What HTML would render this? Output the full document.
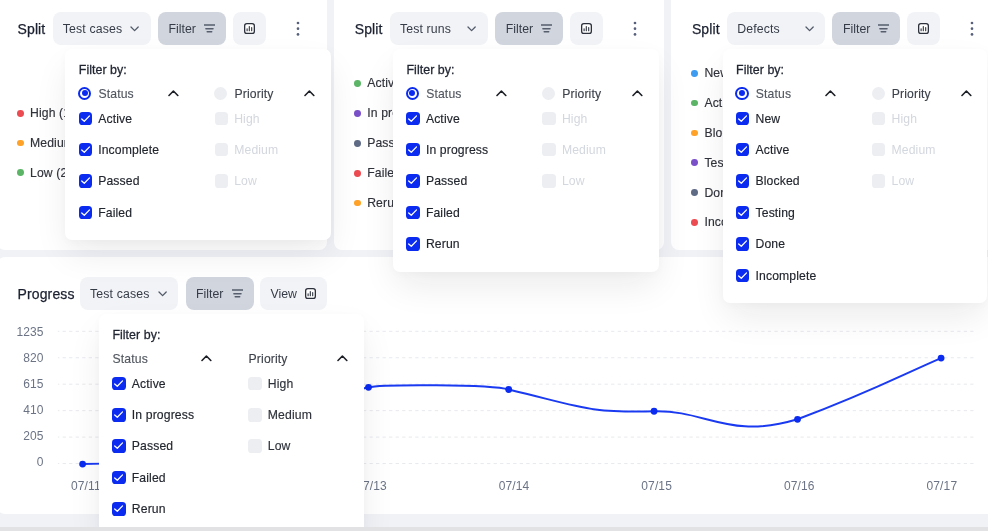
<!DOCTYPE html>
<html><head><meta charset="utf-8"><title>Split / Progress</title>
<style>
*{box-sizing:border-box;margin:0;padding:0}
html,body{width:988px;height:531px;overflow:hidden;background:#f1f2f6;font-family:"Liberation Sans", sans-serif;}
body{position:relative}
.a{position:absolute}
.t{position:absolute;white-space:nowrap;line-height:1;letter-spacing:0.13px}
.dd{background:#fff;border-radius:7px;box-shadow:0 16px 36px -4px rgba(20,25,40,0.09),0 2px 8px rgba(20,25,40,0.025)}
</style></head><body>
<div class="a" style="left:-3.10px;top:-20.00px;width:330.40px;height:270.00px;background:#fff;border-radius:8px;"></div>
<div class="a" style="left:334.10px;top:-20.00px;width:330.40px;height:270.00px;background:#fff;border-radius:8px;"></div>
<div class="a" style="left:671.30px;top:-20.00px;width:330.40px;height:270.00px;background:#fff;border-radius:8px;"></div>
<div class="a" style="left:-3.10px;top:257.20px;width:1000.00px;height:256.40px;background:#fff;border-radius:8px;"></div>
<div class="a" style="left:0.00px;top:527.00px;width:988.00px;height:4.00px;background:#e4e5e8;"></div>
<div class="t" style="left:17.50px;top:22.01px;font-size:14px;color:#1b2030;font-weight:400;-webkit-text-stroke:0.25px #1b2030;">Split</div>
<div class="a" style="left:53.00px;top:12.30px;width:98.00px;height:32.70px;background:#f1f3f7;border-radius:8px;"></div>
<div class="t" style="left:62.80px;top:22.86px;font-size:12.3px;color:#363c47;font-weight:400;">Test cases</div>
<svg class="a" style="left:130.10px;top:25.50px" width="10" height="7" viewBox="0 0 10 7"><polyline points="1,1 4.6,4.6 8.2,1" fill="none" stroke="#535a69" stroke-width="1.3" stroke-linecap="round" stroke-linejoin="round"/></svg>
<div class="a" style="left:158.00px;top:12.30px;width:68.00px;height:32.70px;background:#d0d5de;border-radius:8px;"></div>
<div class="t" style="left:168.60px;top:22.86px;font-size:12.3px;color:#363c47;font-weight:400;letter-spacing:0;">Filter</div>
<svg class="a" style="left:204.00px;top:24.25px" width="11" height="9" viewBox="0 0 11 9"><path d="M0.2 1H10.8M1.9 4.65H9M3.2 7.75H7.7" stroke="#565d6c" stroke-width="1.5" stroke-linecap="round"/></svg>
<div class="a" style="left:233.00px;top:12.30px;width:33.00px;height:32.70px;background:#f1f3f7;border-radius:8px;"></div>
<svg class="a" style="left:244.00px;top:23.05px" width="11" height="11" viewBox="0 0 11 11"><rect x="0.65" y="0.65" width="9.7" height="9.7" rx="2.2" fill="#fff" stroke="#2b303b" stroke-width="1.3"/><path d="M3.1 5.8V7.8M5.3 3.6V7.8M7.7 4.6V7.8" stroke="#2b303b" stroke-width="1.1" stroke-linecap="round"/></svg>
<svg class="a" style="left:294.70px;top:20px" width="6" height="18" viewBox="0 0 6 18"><circle cx="3" cy="3.00" r="1.35" fill="#56607a"/><circle cx="3" cy="8.70" r="1.35" fill="#56607a"/><circle cx="3" cy="14.40" r="1.35" fill="#56607a"/></svg>
<div class="t" style="left:354.70px;top:22.01px;font-size:14px;color:#1b2030;font-weight:400;-webkit-text-stroke:0.25px #1b2030;">Split</div>
<div class="a" style="left:390.20px;top:12.30px;width:98.00px;height:32.70px;background:#f1f3f7;border-radius:8px;"></div>
<div class="t" style="left:400.00px;top:22.86px;font-size:12.3px;color:#363c47;font-weight:400;">Test runs</div>
<svg class="a" style="left:467.30px;top:25.50px" width="10" height="7" viewBox="0 0 10 7"><polyline points="1,1 4.6,4.6 8.2,1" fill="none" stroke="#535a69" stroke-width="1.3" stroke-linecap="round" stroke-linejoin="round"/></svg>
<div class="a" style="left:495.20px;top:12.30px;width:68.00px;height:32.70px;background:#d0d5de;border-radius:8px;"></div>
<div class="t" style="left:505.80px;top:22.86px;font-size:12.3px;color:#363c47;font-weight:400;letter-spacing:0;">Filter</div>
<svg class="a" style="left:541.20px;top:24.25px" width="11" height="9" viewBox="0 0 11 9"><path d="M0.2 1H10.8M1.9 4.65H9M3.2 7.75H7.7" stroke="#565d6c" stroke-width="1.5" stroke-linecap="round"/></svg>
<div class="a" style="left:570.20px;top:12.30px;width:33.00px;height:32.70px;background:#f1f3f7;border-radius:8px;"></div>
<svg class="a" style="left:581.20px;top:23.05px" width="11" height="11" viewBox="0 0 11 11"><rect x="0.65" y="0.65" width="9.7" height="9.7" rx="2.2" fill="#fff" stroke="#2b303b" stroke-width="1.3"/><path d="M3.1 5.8V7.8M5.3 3.6V7.8M7.7 4.6V7.8" stroke="#2b303b" stroke-width="1.1" stroke-linecap="round"/></svg>
<svg class="a" style="left:631.90px;top:20px" width="6" height="18" viewBox="0 0 6 18"><circle cx="3" cy="3.00" r="1.35" fill="#56607a"/><circle cx="3" cy="8.70" r="1.35" fill="#56607a"/><circle cx="3" cy="14.40" r="1.35" fill="#56607a"/></svg>
<div class="t" style="left:691.90px;top:22.01px;font-size:14px;color:#1b2030;font-weight:400;-webkit-text-stroke:0.25px #1b2030;">Split</div>
<div class="a" style="left:727.40px;top:12.30px;width:98.00px;height:32.70px;background:#f1f3f7;border-radius:8px;"></div>
<div class="t" style="left:737.20px;top:22.86px;font-size:12.3px;color:#363c47;font-weight:400;">Defects</div>
<svg class="a" style="left:804.50px;top:25.50px" width="10" height="7" viewBox="0 0 10 7"><polyline points="1,1 4.6,4.6 8.2,1" fill="none" stroke="#535a69" stroke-width="1.3" stroke-linecap="round" stroke-linejoin="round"/></svg>
<div class="a" style="left:832.40px;top:12.30px;width:68.00px;height:32.70px;background:#d0d5de;border-radius:8px;"></div>
<div class="t" style="left:843.00px;top:22.86px;font-size:12.3px;color:#363c47;font-weight:400;letter-spacing:0;">Filter</div>
<svg class="a" style="left:878.40px;top:24.25px" width="11" height="9" viewBox="0 0 11 9"><path d="M0.2 1H10.8M1.9 4.65H9M3.2 7.75H7.7" stroke="#565d6c" stroke-width="1.5" stroke-linecap="round"/></svg>
<div class="a" style="left:907.40px;top:12.30px;width:33.00px;height:32.70px;background:#f1f3f7;border-radius:8px;"></div>
<svg class="a" style="left:918.40px;top:23.05px" width="11" height="11" viewBox="0 0 11 11"><rect x="0.65" y="0.65" width="9.7" height="9.7" rx="2.2" fill="#fff" stroke="#2b303b" stroke-width="1.3"/><path d="M3.1 5.8V7.8M5.3 3.6V7.8M7.7 4.6V7.8" stroke="#2b303b" stroke-width="1.1" stroke-linecap="round"/></svg>
<svg class="a" style="left:969.10px;top:20px" width="6" height="18" viewBox="0 0 6 18"><circle cx="3" cy="3.00" r="1.35" fill="#56607a"/><circle cx="3" cy="8.70" r="1.35" fill="#56607a"/><circle cx="3" cy="14.40" r="1.35" fill="#56607a"/></svg>
<div class="t" style="left:17.50px;top:287.01px;font-size:14px;color:#1b2030;font-weight:400;-webkit-text-stroke:0.25px #1b2030;">Progress</div>
<div class="a" style="left:80.30px;top:277.30px;width:98.10px;height:32.70px;background:#f1f3f7;border-radius:8px;"></div>
<div class="t" style="left:90.10px;top:287.86px;font-size:12.3px;color:#363c47;font-weight:400;">Test cases</div>
<svg class="a" style="left:157.50px;top:290.50px" width="10" height="7" viewBox="0 0 10 7"><polyline points="1,1 4.6,4.6 8.2,1" fill="none" stroke="#535a69" stroke-width="1.3" stroke-linecap="round" stroke-linejoin="round"/></svg>
<div class="a" style="left:185.50px;top:277.30px;width:68.00px;height:32.70px;background:#d0d5de;border-radius:8px;"></div>
<div class="t" style="left:196.10px;top:287.86px;font-size:12.3px;color:#363c47;font-weight:400;letter-spacing:0;">Filter</div>
<svg class="a" style="left:231.50px;top:289.25px" width="11" height="9" viewBox="0 0 11 9"><path d="M0.2 1H10.8M1.9 4.65H9M3.2 7.75H7.7" stroke="#565d6c" stroke-width="1.5" stroke-linecap="round"/></svg>
<div class="a" style="left:260.20px;top:277.30px;width:66.70px;height:32.70px;background:#f1f3f7;border-radius:8px;"></div>
<div class="t" style="left:270.50px;top:287.86px;font-size:12.3px;color:#363c47;font-weight:400;letter-spacing:0;">View</div>
<svg class="a" style="left:305.10px;top:288.10px" width="11" height="11" viewBox="0 0 11 11"><rect x="0.65" y="0.65" width="9.7" height="9.7" rx="2.2" fill="#fff" stroke="#2b303b" stroke-width="1.3"/><path d="M3.1 5.8V7.8M5.3 3.6V7.8M7.7 4.6V7.8" stroke="#2b303b" stroke-width="1.1" stroke-linecap="round"/></svg>
<div class="a" style="left:16.90px;top:109.90px;width:6.8px;height:6.8px;border-radius:50%;background:#ec4b51"></div>
<div class="t" style="left:30.00px;top:106.91px;font-size:12.2px;color:#30333b;font-weight:400;-webkit-text-stroke:0.15px #30333b;">High (1)</div>
<div class="a" style="left:16.90px;top:139.60px;width:6.8px;height:6.8px;border-radius:50%;background:#ffa227"></div>
<div class="t" style="left:30.00px;top:136.91px;font-size:12.2px;color:#30333b;font-weight:400;-webkit-text-stroke:0.15px #30333b;">Medium (3)</div>
<div class="a" style="left:16.90px;top:169.20px;width:6.8px;height:6.8px;border-radius:50%;background:#5cb567"></div>
<div class="t" style="left:30.00px;top:166.91px;font-size:12.2px;color:#30333b;font-weight:400;-webkit-text-stroke:0.15px #30333b;">Low (2)</div>
<div class="a" style="left:354.10px;top:79.90px;width:6.8px;height:6.8px;border-radius:50%;background:#5cb567"></div>
<div class="t" style="left:367.20px;top:76.91px;font-size:12.2px;color:#30333b;font-weight:400;-webkit-text-stroke:0.15px #30333b;">Active (3)</div>
<div class="a" style="left:354.10px;top:109.80px;width:6.8px;height:6.8px;border-radius:50%;background:#7a50c8"></div>
<div class="t" style="left:367.20px;top:106.91px;font-size:12.2px;color:#30333b;font-weight:400;-webkit-text-stroke:0.15px #30333b;">In progress (1)</div>
<div class="a" style="left:354.10px;top:139.80px;width:6.8px;height:6.8px;border-radius:50%;background:#5f6b85"></div>
<div class="t" style="left:367.20px;top:136.91px;font-size:12.2px;color:#30333b;font-weight:400;-webkit-text-stroke:0.15px #30333b;">Passed (4)</div>
<div class="a" style="left:354.10px;top:169.80px;width:6.8px;height:6.8px;border-radius:50%;background:#ec4b51"></div>
<div class="t" style="left:367.20px;top:166.91px;font-size:12.2px;color:#30333b;font-weight:400;-webkit-text-stroke:0.15px #30333b;">Failed (1)</div>
<div class="a" style="left:354.10px;top:199.70px;width:6.8px;height:6.8px;border-radius:50%;background:#ffa227"></div>
<div class="t" style="left:367.20px;top:196.91px;font-size:12.2px;color:#30333b;font-weight:400;-webkit-text-stroke:0.15px #30333b;">Rerun (0)</div>
<div class="a" style="left:691.30px;top:69.80px;width:6.8px;height:6.8px;border-radius:50%;background:#3d9bf0"></div>
<div class="t" style="left:704.40px;top:66.91px;font-size:12.2px;color:#30333b;font-weight:400;-webkit-text-stroke:0.15px #30333b;">New (2)</div>
<div class="a" style="left:691.30px;top:99.60px;width:6.8px;height:6.8px;border-radius:50%;background:#5cb567"></div>
<div class="t" style="left:704.40px;top:96.91px;font-size:12.2px;color:#30333b;font-weight:400;-webkit-text-stroke:0.15px #30333b;">Active (1)</div>
<div class="a" style="left:691.30px;top:129.50px;width:6.8px;height:6.8px;border-radius:50%;background:#ffa227"></div>
<div class="t" style="left:704.40px;top:126.91px;font-size:12.2px;color:#30333b;font-weight:400;-webkit-text-stroke:0.15px #30333b;">Blocked (1)</div>
<div class="a" style="left:691.30px;top:159.30px;width:6.8px;height:6.8px;border-radius:50%;background:#7a50c8"></div>
<div class="t" style="left:704.40px;top:156.91px;font-size:12.2px;color:#30333b;font-weight:400;-webkit-text-stroke:0.15px #30333b;">Testing (0)</div>
<div class="a" style="left:691.30px;top:189.10px;width:6.8px;height:6.8px;border-radius:50%;background:#5f6b85"></div>
<div class="t" style="left:704.40px;top:186.91px;font-size:12.2px;color:#30333b;font-weight:400;-webkit-text-stroke:0.15px #30333b;">Done (3)</div>
<div class="a" style="left:691.30px;top:218.80px;width:6.8px;height:6.8px;border-radius:50%;background:#ec4b51"></div>
<div class="t" style="left:704.40px;top:215.91px;font-size:12.2px;color:#30333b;font-weight:400;-webkit-text-stroke:0.15px #30333b;">Incomplete (1)</div>
<svg class="a" style="left:0;top:0" width="988" height="531" viewBox="0 0 988 531"><line x1="57.9" y1="331.3" x2="973.5" y2="331.3" stroke="#e7e9ed" stroke-width="1" stroke-dasharray="3.3 3.23" stroke-dashoffset="1.83"/><line x1="57.9" y1="357.75" x2="973.5" y2="357.75" stroke="#e7e9ed" stroke-width="1" stroke-dasharray="3.3 3.23" stroke-dashoffset="1.83"/><line x1="57.9" y1="384.2" x2="973.5" y2="384.2" stroke="#e7e9ed" stroke-width="1" stroke-dasharray="3.3 3.23" stroke-dashoffset="1.83"/><line x1="57.9" y1="410.65" x2="973.5" y2="410.65" stroke="#e7e9ed" stroke-width="1" stroke-dasharray="3.3 3.23" stroke-dashoffset="1.83"/><line x1="57.9" y1="437.1" x2="973.5" y2="437.1" stroke="#e7e9ed" stroke-width="1" stroke-dasharray="3.3 3.23" stroke-dashoffset="1.83"/><line x1="57.9" y1="463.55" x2="973.5" y2="463.55" stroke="#e7e9ed" stroke-width="1" stroke-dasharray="3.3 3.23" stroke-dashoffset="1.83"/></svg>
<div class="t" style="right:944.40px;top:326.01px;font-size:12px;color:#6b7385;font-weight:400;">1235</div>
<div class="t" style="right:944.40px;top:352.01px;font-size:12px;color:#6b7385;font-weight:400;">820</div>
<div class="t" style="right:944.40px;top:378.01px;font-size:12px;color:#6b7385;font-weight:400;">615</div>
<div class="t" style="right:944.40px;top:404.01px;font-size:12px;color:#6b7385;font-weight:400;">410</div>
<div class="t" style="right:944.40px;top:430.01px;font-size:12px;color:#6b7385;font-weight:400;">205</div>
<div class="t" style="right:944.40px;top:456.01px;font-size:12px;color:#6b7385;font-weight:400;">0</div>
<div class="t" style="left:70.90px;top:480.01px;font-size:12px;color:#6b7385;font-weight:400;">07/11</div>
<div class="t" style="left:213.50px;top:480.01px;font-size:12px;color:#6b7385;font-weight:400;">07/12</div>
<div class="t" style="left:356.10px;top:480.01px;font-size:12px;color:#6b7385;font-weight:400;">07/13</div>
<div class="t" style="left:498.70px;top:480.01px;font-size:12px;color:#6b7385;font-weight:400;">07/14</div>
<div class="t" style="left:641.30px;top:480.01px;font-size:12px;color:#6b7385;font-weight:400;">07/15</div>
<div class="t" style="left:783.90px;top:480.01px;font-size:12px;color:#6b7385;font-weight:400;">07/16</div>
<div class="t" style="left:926.50px;top:480.01px;font-size:12px;color:#6b7385;font-weight:400;">07/17</div>
<svg class="a" style="left:0;top:0" width="988" height="531" viewBox="0 0 988 531"><path d="M82.6 464.1 C160 464.1,190 445,225.7 430 C265 420,345 393,368.5 387.3 C379.9 384.25,490.9 384.00,508.7 389.5 C585.2 407.82,586.9 412.60,654.05 411.26 C706.4 409.88,728.6 439.88,797.5 419.3 C871.2 391.80,903.0 374.36,941.1 358.1" fill="none" stroke="#1a3af2" stroke-width="2"/><circle cx="82.6" cy="464.1" r="3.4" fill="#0b2cf0"/><circle cx="225.7" cy="430.0" r="3.4" fill="#0b2cf0"/><circle cx="368.5" cy="387.3" r="3.4" fill="#0b2cf0"/><circle cx="508.7" cy="389.5" r="3.4" fill="#0b2cf0"/><circle cx="654.05" cy="411.26" r="3.4" fill="#0b2cf0"/><circle cx="797.5" cy="419.3" r="3.4" fill="#0b2cf0"/><circle cx="941.1" cy="358.1" r="3.4" fill="#0b2cf0"/></svg>
<div class="a dd" style="left:65.30px;top:49.20px;width:265.50px;height:191.10px"></div>
<div class="t" style="left:78.80px;top:63.81px;font-size:12.4px;color:#1f2430;font-weight:400;-webkit-text-stroke:0.28px #1f2430;letter-spacing:0.05px;">Filter by:</div>
<div class="a" style="left:78.10px;top:86.80px;width:13.2px;height:13.2px;border-radius:50%;border:2.2px solid #0b2cf0;background:#fff"></div>
<div class="a" style="left:81.60px;top:90.30px;width:6.2px;height:6.2px;border-radius:50%;background:#0b2cf0"></div>
<div class="a" style="left:214.20px;top:86.90px;width:13.00px;height:13.00px;border-radius:50%;background:#eceef2;"></div>
<div class="t" style="left:98.50px;top:87.91px;font-size:12.2px;color:#51565f;font-weight:400;-webkit-text-stroke:0.12px #51565f;">Status</div>
<div class="t" style="left:234.50px;top:87.91px;font-size:12.2px;color:#3c414a;font-weight:400;-webkit-text-stroke:0.12px #3c414a;">Priority</div>
<svg class="a" style="left:167.80px;top:90.30px" width="11" height="7" viewBox="0 0 11 7"><polyline points="1,5.5 5.4,1 9.8,5.5" fill="none" stroke="#1c1f26" stroke-width="1.6" stroke-linecap="round" stroke-linejoin="round"/></svg>
<svg class="a" style="left:303.80px;top:90.30px" width="11" height="7" viewBox="0 0 11 7"><polyline points="1,5.5 5.4,1 9.8,5.5" fill="none" stroke="#1c1f26" stroke-width="1.6" stroke-linecap="round" stroke-linejoin="round"/></svg>
<div class="a" style="left:78.50px;top:111.55px;width:13.5px;height:13.5px;border-radius:3.6px;background:#0b2cf0"><svg width="13.5" height="13.5" viewBox="0 0 13.5 13.5" style="display:block"><polyline points="2.7,7.0 5.3,9.3 10.5,3.9" fill="none" stroke="#fff" stroke-width="1.3" stroke-linecap="round" stroke-linejoin="round"/></svg></div>
<div class="t" style="left:98.20px;top:112.91px;font-size:12.2px;color:#22262e;font-weight:400;-webkit-text-stroke:0.15px #22262e;">Active</div>
<div class="a" style="left:78.50px;top:142.95px;width:13.5px;height:13.5px;border-radius:3.6px;background:#0b2cf0"><svg width="13.5" height="13.5" viewBox="0 0 13.5 13.5" style="display:block"><polyline points="2.7,7.0 5.3,9.3 10.5,3.9" fill="none" stroke="#fff" stroke-width="1.3" stroke-linecap="round" stroke-linejoin="round"/></svg></div>
<div class="t" style="left:98.20px;top:143.91px;font-size:12.2px;color:#22262e;font-weight:400;-webkit-text-stroke:0.15px #22262e;">Incomplete</div>
<div class="a" style="left:78.50px;top:174.35px;width:13.5px;height:13.5px;border-radius:3.6px;background:#0b2cf0"><svg width="13.5" height="13.5" viewBox="0 0 13.5 13.5" style="display:block"><polyline points="2.7,7.0 5.3,9.3 10.5,3.9" fill="none" stroke="#fff" stroke-width="1.3" stroke-linecap="round" stroke-linejoin="round"/></svg></div>
<div class="t" style="left:98.20px;top:174.91px;font-size:12.2px;color:#22262e;font-weight:400;-webkit-text-stroke:0.15px #22262e;">Passed</div>
<div class="a" style="left:78.50px;top:205.75px;width:13.5px;height:13.5px;border-radius:3.6px;background:#0b2cf0"><svg width="13.5" height="13.5" viewBox="0 0 13.5 13.5" style="display:block"><polyline points="2.7,7.0 5.3,9.3 10.5,3.9" fill="none" stroke="#fff" stroke-width="1.3" stroke-linecap="round" stroke-linejoin="round"/></svg></div>
<div class="t" style="left:98.20px;top:206.91px;font-size:12.2px;color:#22262e;font-weight:400;-webkit-text-stroke:0.15px #22262e;">Failed</div>
<div class="a" style="left:214.50px;top:111.55px;width:13.50px;height:13.50px;border-radius:3.6px;background:#eceef2;"></div>
<div class="t" style="left:234.20px;top:112.91px;font-size:12.2px;color:#d3d7de;font-weight:400;">High</div>
<div class="a" style="left:214.50px;top:142.95px;width:13.50px;height:13.50px;border-radius:3.6px;background:#eceef2;"></div>
<div class="t" style="left:234.20px;top:143.91px;font-size:12.2px;color:#d3d7de;font-weight:400;">Medium</div>
<div class="a" style="left:214.50px;top:174.35px;width:13.50px;height:13.50px;border-radius:3.6px;background:#eceef2;"></div>
<div class="t" style="left:234.20px;top:174.91px;font-size:12.2px;color:#d3d7de;font-weight:400;">Low</div>
<div class="a dd" style="left:393.00px;top:49.20px;width:265.50px;height:222.70px"></div>
<div class="t" style="left:406.50px;top:63.81px;font-size:12.4px;color:#1f2430;font-weight:400;-webkit-text-stroke:0.28px #1f2430;letter-spacing:0.05px;">Filter by:</div>
<div class="a" style="left:405.80px;top:86.80px;width:13.2px;height:13.2px;border-radius:50%;border:2.2px solid #0b2cf0;background:#fff"></div>
<div class="a" style="left:409.30px;top:90.30px;width:6.2px;height:6.2px;border-radius:50%;background:#0b2cf0"></div>
<div class="a" style="left:541.90px;top:86.90px;width:13.00px;height:13.00px;border-radius:50%;background:#eceef2;"></div>
<div class="t" style="left:426.20px;top:87.91px;font-size:12.2px;color:#51565f;font-weight:400;-webkit-text-stroke:0.12px #51565f;">Status</div>
<div class="t" style="left:562.20px;top:87.91px;font-size:12.2px;color:#3c414a;font-weight:400;-webkit-text-stroke:0.12px #3c414a;">Priority</div>
<svg class="a" style="left:495.50px;top:90.30px" width="11" height="7" viewBox="0 0 11 7"><polyline points="1,5.5 5.4,1 9.8,5.5" fill="none" stroke="#1c1f26" stroke-width="1.6" stroke-linecap="round" stroke-linejoin="round"/></svg>
<svg class="a" style="left:631.50px;top:90.30px" width="11" height="7" viewBox="0 0 11 7"><polyline points="1,5.5 5.4,1 9.8,5.5" fill="none" stroke="#1c1f26" stroke-width="1.6" stroke-linecap="round" stroke-linejoin="round"/></svg>
<div class="a" style="left:406.20px;top:111.55px;width:13.5px;height:13.5px;border-radius:3.6px;background:#0b2cf0"><svg width="13.5" height="13.5" viewBox="0 0 13.5 13.5" style="display:block"><polyline points="2.7,7.0 5.3,9.3 10.5,3.9" fill="none" stroke="#fff" stroke-width="1.3" stroke-linecap="round" stroke-linejoin="round"/></svg></div>
<div class="t" style="left:425.90px;top:112.91px;font-size:12.2px;color:#22262e;font-weight:400;-webkit-text-stroke:0.15px #22262e;">Active</div>
<div class="a" style="left:406.20px;top:142.95px;width:13.5px;height:13.5px;border-radius:3.6px;background:#0b2cf0"><svg width="13.5" height="13.5" viewBox="0 0 13.5 13.5" style="display:block"><polyline points="2.7,7.0 5.3,9.3 10.5,3.9" fill="none" stroke="#fff" stroke-width="1.3" stroke-linecap="round" stroke-linejoin="round"/></svg></div>
<div class="t" style="left:425.90px;top:143.91px;font-size:12.2px;color:#22262e;font-weight:400;-webkit-text-stroke:0.15px #22262e;">In progress</div>
<div class="a" style="left:406.20px;top:174.35px;width:13.5px;height:13.5px;border-radius:3.6px;background:#0b2cf0"><svg width="13.5" height="13.5" viewBox="0 0 13.5 13.5" style="display:block"><polyline points="2.7,7.0 5.3,9.3 10.5,3.9" fill="none" stroke="#fff" stroke-width="1.3" stroke-linecap="round" stroke-linejoin="round"/></svg></div>
<div class="t" style="left:425.90px;top:174.91px;font-size:12.2px;color:#22262e;font-weight:400;-webkit-text-stroke:0.15px #22262e;">Passed</div>
<div class="a" style="left:406.20px;top:205.75px;width:13.5px;height:13.5px;border-radius:3.6px;background:#0b2cf0"><svg width="13.5" height="13.5" viewBox="0 0 13.5 13.5" style="display:block"><polyline points="2.7,7.0 5.3,9.3 10.5,3.9" fill="none" stroke="#fff" stroke-width="1.3" stroke-linecap="round" stroke-linejoin="round"/></svg></div>
<div class="t" style="left:425.90px;top:206.91px;font-size:12.2px;color:#22262e;font-weight:400;-webkit-text-stroke:0.15px #22262e;">Failed</div>
<div class="a" style="left:406.20px;top:237.15px;width:13.5px;height:13.5px;border-radius:3.6px;background:#0b2cf0"><svg width="13.5" height="13.5" viewBox="0 0 13.5 13.5" style="display:block"><polyline points="2.7,7.0 5.3,9.3 10.5,3.9" fill="none" stroke="#fff" stroke-width="1.3" stroke-linecap="round" stroke-linejoin="round"/></svg></div>
<div class="t" style="left:425.90px;top:237.91px;font-size:12.2px;color:#22262e;font-weight:400;-webkit-text-stroke:0.15px #22262e;">Rerun</div>
<div class="a" style="left:542.20px;top:111.55px;width:13.50px;height:13.50px;border-radius:3.6px;background:#eceef2;"></div>
<div class="t" style="left:561.90px;top:112.91px;font-size:12.2px;color:#d3d7de;font-weight:400;">High</div>
<div class="a" style="left:542.20px;top:142.95px;width:13.50px;height:13.50px;border-radius:3.6px;background:#eceef2;"></div>
<div class="t" style="left:561.90px;top:143.91px;font-size:12.2px;color:#d3d7de;font-weight:400;">Medium</div>
<div class="a" style="left:542.20px;top:174.35px;width:13.50px;height:13.50px;border-radius:3.6px;background:#eceef2;"></div>
<div class="t" style="left:561.90px;top:174.91px;font-size:12.2px;color:#d3d7de;font-weight:400;">Low</div>
<div class="a dd" style="left:722.60px;top:49.20px;width:264.60px;height:253.50px"></div>
<div class="t" style="left:736.10px;top:63.81px;font-size:12.4px;color:#1f2430;font-weight:400;-webkit-text-stroke:0.28px #1f2430;letter-spacing:0.05px;">Filter by:</div>
<div class="a" style="left:735.40px;top:86.80px;width:13.2px;height:13.2px;border-radius:50%;border:2.2px solid #0b2cf0;background:#fff"></div>
<div class="a" style="left:738.90px;top:90.30px;width:6.2px;height:6.2px;border-radius:50%;background:#0b2cf0"></div>
<div class="a" style="left:871.50px;top:86.90px;width:13.00px;height:13.00px;border-radius:50%;background:#eceef2;"></div>
<div class="t" style="left:755.80px;top:87.91px;font-size:12.2px;color:#51565f;font-weight:400;-webkit-text-stroke:0.12px #51565f;">Status</div>
<div class="t" style="left:891.80px;top:87.91px;font-size:12.2px;color:#3c414a;font-weight:400;-webkit-text-stroke:0.12px #3c414a;">Priority</div>
<svg class="a" style="left:825.10px;top:90.30px" width="11" height="7" viewBox="0 0 11 7"><polyline points="1,5.5 5.4,1 9.8,5.5" fill="none" stroke="#1c1f26" stroke-width="1.6" stroke-linecap="round" stroke-linejoin="round"/></svg>
<svg class="a" style="left:961.10px;top:90.30px" width="11" height="7" viewBox="0 0 11 7"><polyline points="1,5.5 5.4,1 9.8,5.5" fill="none" stroke="#1c1f26" stroke-width="1.6" stroke-linecap="round" stroke-linejoin="round"/></svg>
<div class="a" style="left:735.80px;top:111.55px;width:13.5px;height:13.5px;border-radius:3.6px;background:#0b2cf0"><svg width="13.5" height="13.5" viewBox="0 0 13.5 13.5" style="display:block"><polyline points="2.7,7.0 5.3,9.3 10.5,3.9" fill="none" stroke="#fff" stroke-width="1.3" stroke-linecap="round" stroke-linejoin="round"/></svg></div>
<div class="t" style="left:755.50px;top:112.91px;font-size:12.2px;color:#22262e;font-weight:400;-webkit-text-stroke:0.15px #22262e;">New</div>
<div class="a" style="left:735.80px;top:142.95px;width:13.5px;height:13.5px;border-radius:3.6px;background:#0b2cf0"><svg width="13.5" height="13.5" viewBox="0 0 13.5 13.5" style="display:block"><polyline points="2.7,7.0 5.3,9.3 10.5,3.9" fill="none" stroke="#fff" stroke-width="1.3" stroke-linecap="round" stroke-linejoin="round"/></svg></div>
<div class="t" style="left:755.50px;top:143.91px;font-size:12.2px;color:#22262e;font-weight:400;-webkit-text-stroke:0.15px #22262e;">Active</div>
<div class="a" style="left:735.80px;top:174.35px;width:13.5px;height:13.5px;border-radius:3.6px;background:#0b2cf0"><svg width="13.5" height="13.5" viewBox="0 0 13.5 13.5" style="display:block"><polyline points="2.7,7.0 5.3,9.3 10.5,3.9" fill="none" stroke="#fff" stroke-width="1.3" stroke-linecap="round" stroke-linejoin="round"/></svg></div>
<div class="t" style="left:755.50px;top:174.91px;font-size:12.2px;color:#22262e;font-weight:400;-webkit-text-stroke:0.15px #22262e;">Blocked</div>
<div class="a" style="left:735.80px;top:205.75px;width:13.5px;height:13.5px;border-radius:3.6px;background:#0b2cf0"><svg width="13.5" height="13.5" viewBox="0 0 13.5 13.5" style="display:block"><polyline points="2.7,7.0 5.3,9.3 10.5,3.9" fill="none" stroke="#fff" stroke-width="1.3" stroke-linecap="round" stroke-linejoin="round"/></svg></div>
<div class="t" style="left:755.50px;top:206.91px;font-size:12.2px;color:#22262e;font-weight:400;-webkit-text-stroke:0.15px #22262e;">Testing</div>
<div class="a" style="left:735.80px;top:237.15px;width:13.5px;height:13.5px;border-radius:3.6px;background:#0b2cf0"><svg width="13.5" height="13.5" viewBox="0 0 13.5 13.5" style="display:block"><polyline points="2.7,7.0 5.3,9.3 10.5,3.9" fill="none" stroke="#fff" stroke-width="1.3" stroke-linecap="round" stroke-linejoin="round"/></svg></div>
<div class="t" style="left:755.50px;top:237.91px;font-size:12.2px;color:#22262e;font-weight:400;-webkit-text-stroke:0.15px #22262e;">Done</div>
<div class="a" style="left:735.80px;top:268.55px;width:13.5px;height:13.5px;border-radius:3.6px;background:#0b2cf0"><svg width="13.5" height="13.5" viewBox="0 0 13.5 13.5" style="display:block"><polyline points="2.7,7.0 5.3,9.3 10.5,3.9" fill="none" stroke="#fff" stroke-width="1.3" stroke-linecap="round" stroke-linejoin="round"/></svg></div>
<div class="t" style="left:755.50px;top:269.91px;font-size:12.2px;color:#22262e;font-weight:400;-webkit-text-stroke:0.15px #22262e;">Incomplete</div>
<div class="a" style="left:871.80px;top:111.55px;width:13.50px;height:13.50px;border-radius:3.6px;background:#eceef2;"></div>
<div class="t" style="left:891.50px;top:112.91px;font-size:12.2px;color:#d3d7de;font-weight:400;">High</div>
<div class="a" style="left:871.80px;top:142.95px;width:13.50px;height:13.50px;border-radius:3.6px;background:#eceef2;"></div>
<div class="t" style="left:891.50px;top:143.91px;font-size:12.2px;color:#d3d7de;font-weight:400;">Medium</div>
<div class="a" style="left:871.80px;top:174.35px;width:13.50px;height:13.50px;border-radius:3.6px;background:#eceef2;"></div>
<div class="t" style="left:891.50px;top:174.91px;font-size:12.2px;color:#d3d7de;font-weight:400;">Low</div>
<div class="a dd" style="left:98.90px;top:313.90px;width:265.50px;height:223.10px"></div>
<div class="t" style="left:112.40px;top:328.81px;font-size:12.4px;color:#1f2430;font-weight:400;-webkit-text-stroke:0.28px #1f2430;letter-spacing:0.05px;">Filter by:</div>
<div class="t" style="left:112.60px;top:352.91px;font-size:12.2px;color:#51565f;font-weight:400;-webkit-text-stroke:0.12px #51565f;">Status</div>
<div class="t" style="left:248.60px;top:352.91px;font-size:12.2px;color:#3c414a;font-weight:400;-webkit-text-stroke:0.12px #3c414a;">Priority</div>
<svg class="a" style="left:201.40px;top:355.40px" width="11" height="7" viewBox="0 0 11 7"><polyline points="1,5.5 5.4,1 9.8,5.5" fill="none" stroke="#1c1f26" stroke-width="1.6" stroke-linecap="round" stroke-linejoin="round"/></svg>
<svg class="a" style="left:337.40px;top:355.40px" width="11" height="7" viewBox="0 0 11 7"><polyline points="1,5.5 5.4,1 9.8,5.5" fill="none" stroke="#1c1f26" stroke-width="1.6" stroke-linecap="round" stroke-linejoin="round"/></svg>
<div class="a" style="left:112.10px;top:376.65px;width:13.5px;height:13.5px;border-radius:3.6px;background:#0b2cf0"><svg width="13.5" height="13.5" viewBox="0 0 13.5 13.5" style="display:block"><polyline points="2.7,7.0 5.3,9.3 10.5,3.9" fill="none" stroke="#fff" stroke-width="1.3" stroke-linecap="round" stroke-linejoin="round"/></svg></div>
<div class="t" style="left:131.80px;top:377.91px;font-size:12.2px;color:#22262e;font-weight:400;-webkit-text-stroke:0.15px #22262e;">Active</div>
<div class="a" style="left:112.10px;top:408.05px;width:13.5px;height:13.5px;border-radius:3.6px;background:#0b2cf0"><svg width="13.5" height="13.5" viewBox="0 0 13.5 13.5" style="display:block"><polyline points="2.7,7.0 5.3,9.3 10.5,3.9" fill="none" stroke="#fff" stroke-width="1.3" stroke-linecap="round" stroke-linejoin="round"/></svg></div>
<div class="t" style="left:131.80px;top:408.91px;font-size:12.2px;color:#22262e;font-weight:400;-webkit-text-stroke:0.15px #22262e;">In progress</div>
<div class="a" style="left:112.10px;top:439.45px;width:13.5px;height:13.5px;border-radius:3.6px;background:#0b2cf0"><svg width="13.5" height="13.5" viewBox="0 0 13.5 13.5" style="display:block"><polyline points="2.7,7.0 5.3,9.3 10.5,3.9" fill="none" stroke="#fff" stroke-width="1.3" stroke-linecap="round" stroke-linejoin="round"/></svg></div>
<div class="t" style="left:131.80px;top:439.91px;font-size:12.2px;color:#22262e;font-weight:400;-webkit-text-stroke:0.15px #22262e;">Passed</div>
<div class="a" style="left:112.10px;top:470.85px;width:13.5px;height:13.5px;border-radius:3.6px;background:#0b2cf0"><svg width="13.5" height="13.5" viewBox="0 0 13.5 13.5" style="display:block"><polyline points="2.7,7.0 5.3,9.3 10.5,3.9" fill="none" stroke="#fff" stroke-width="1.3" stroke-linecap="round" stroke-linejoin="round"/></svg></div>
<div class="t" style="left:131.80px;top:471.91px;font-size:12.2px;color:#22262e;font-weight:400;-webkit-text-stroke:0.15px #22262e;">Failed</div>
<div class="a" style="left:112.10px;top:502.25px;width:13.5px;height:13.5px;border-radius:3.6px;background:#0b2cf0"><svg width="13.5" height="13.5" viewBox="0 0 13.5 13.5" style="display:block"><polyline points="2.7,7.0 5.3,9.3 10.5,3.9" fill="none" stroke="#fff" stroke-width="1.3" stroke-linecap="round" stroke-linejoin="round"/></svg></div>
<div class="t" style="left:131.80px;top:502.91px;font-size:12.2px;color:#22262e;font-weight:400;-webkit-text-stroke:0.15px #22262e;">Rerun</div>
<div class="a" style="left:248.10px;top:376.65px;width:13.50px;height:13.50px;border-radius:3.6px;background:#eceef2;"></div>
<div class="t" style="left:267.80px;top:377.91px;font-size:12.2px;color:#2e323a;font-weight:400;-webkit-text-stroke:0.15px #2e323a;">High</div>
<div class="a" style="left:248.10px;top:408.05px;width:13.50px;height:13.50px;border-radius:3.6px;background:#eceef2;"></div>
<div class="t" style="left:267.80px;top:408.91px;font-size:12.2px;color:#2e323a;font-weight:400;-webkit-text-stroke:0.15px #2e323a;">Medium</div>
<div class="a" style="left:248.10px;top:439.45px;width:13.50px;height:13.50px;border-radius:3.6px;background:#eceef2;"></div>
<div class="t" style="left:267.80px;top:439.91px;font-size:12.2px;color:#2e323a;font-weight:400;-webkit-text-stroke:0.15px #2e323a;">Low</div>
<div class="a" style="left:0.00px;top:527.00px;width:988.00px;height:4.00px;background:#e2e2e4;z-index:50;"></div>
</body></html>
